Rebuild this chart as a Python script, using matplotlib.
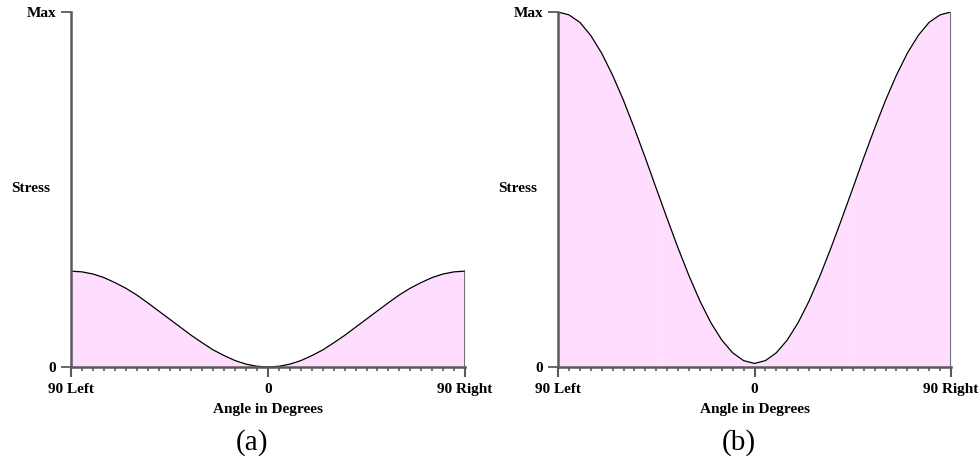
import matplotlib
matplotlib.use("Agg")
import matplotlib.pyplot as plt
import numpy as np

# ---- data ----
angles = [-90, -85, -80, -75, -70, -65, -60, -55, -50, -45, -40, -35, -30, -25, -20, -15, -10, -5,
          0, 5, 10, 15, 20, 25, 30, 35, 40, 45, 50, 55, 60, 65, 70, 75, 80, 85, 90]
stress_a = [0.270, 0.268, 0.262, 0.252, 0.238, 0.222, 0.203, 0.181, 0.158, 0.135, 0.112, 0.089,
            0.068, 0.048, 0.032, 0.018, 0.008, 0.002, 0.000, 0.002, 0.008, 0.018, 0.032, 0.048,
            0.068, 0.089, 0.112, 0.135, 0.158, 0.181, 0.203, 0.222, 0.238, 0.252, 0.262, 0.268, 0.270]
stress_b = [1.000, 0.992, 0.971, 0.934, 0.884, 0.822, 0.751, 0.672, 0.589, 0.503, 0.418, 0.335,
            0.257, 0.186, 0.125, 0.076, 0.040, 0.018, 0.010, 0.018, 0.040, 0.076, 0.125, 0.186,
            0.257, 0.335, 0.418, 0.503, 0.589, 0.672, 0.751, 0.822, 0.884, 0.934, 0.971, 0.992, 1.000]
x_tick_pos = [-90, 0, 90]
x_tick_labels = ["90 Left", "0", "90 Right"]
y_tick_pos = [0, 1]
y_tick_labels = ["0", "Max"]
panel_labels = ["(a)", "(b)"]

serif = ["Liberation Serif", "DejaVu Serif"]
fill_color = "#FFDDFF"
spine_color = "#5a5a5a"
fs = 11

fig = plt.figure(figsize=(9.8, 4.61), dpi=100)
W, H = 980, 461

def make_axes(x0, x1, y_top, y_bot):
    return fig.add_axes([x0 / W, (H - y_bot) / H, (x1 - x0) / W, (y_bot - y_top) / H])

axes_px = [(71, 465), (558, 951)]
series = [stress_a, stress_b]
ang = np.array(angles)

for (x0, x1), vals, plab in zip(axes_px, series, panel_labels):
    ax = make_axes(x0, x1, 12, 367)
    v = np.array(vals)
    # fill in three pieces (faint seams at +-45 like the reference)
    for lo, hi in [(-90, -45), (-45, 45), (45, 90)]:
        m = (ang >= lo) & (ang <= hi)
        ax.fill_between(ang[m], 0, v[m], color=fill_color, lw=0)
    ax.plot(ang, v, color="black", lw=0.9)
    ax.plot([angles[-1], angles[-1]], [0, vals[-1]], color=spine_color, lw=1.2)
    ax.set_xlim(-90, 90)
    ax.set_ylim(0, 1)
    for s in ["top", "right"]:
        ax.spines[s].set_visible(False)
    for s in ["left", "bottom"]:
        ax.spines[s].set_color(spine_color)
        ax.spines[s].set_linewidth(1.8)
    ax.set_xticks(x_tick_pos)
    ax.set_xticklabels(x_tick_labels, fontfamily=serif, fontweight="bold", fontsize=fs)
    ax.set_xticks(np.arange(-90, 91, 5), minor=True)
    ax.set_yticks(y_tick_pos)
    ax.set_yticklabels(y_tick_labels, fontfamily=serif, fontweight="bold", fontsize=fs)
    ax.tick_params(axis="x", which="major", length=7.5, width=1.5, color=spine_color, pad=4)
    ax.tick_params(axis="x", which="minor", length=3, width=1.2, color=spine_color)
    ax.tick_params(axis="y", which="major", length=7.5, width=1.3, color=spine_color, pad=3)
    ax.patch.set_alpha(0)

    fig.text((x0 - 40) / W, (H - 188) / H, "Stress", fontfamily=serif, fontweight="bold",
             fontsize=fs, ha="center", va="center")
    cx = ax.transData.transform((0, 0))[0]
    fig.text(cx / W, (H - 409) / H, "Angle in Degrees", fontfamily=serif, fontweight="bold",
             fontsize=fs, ha="center", va="center")
    fig.text((cx - 16) / W, (H - 443) / H, plab, fontfamily=serif, fontsize=21,
             ha="center", va="center")

fig.savefig("out.png", dpi=100)
